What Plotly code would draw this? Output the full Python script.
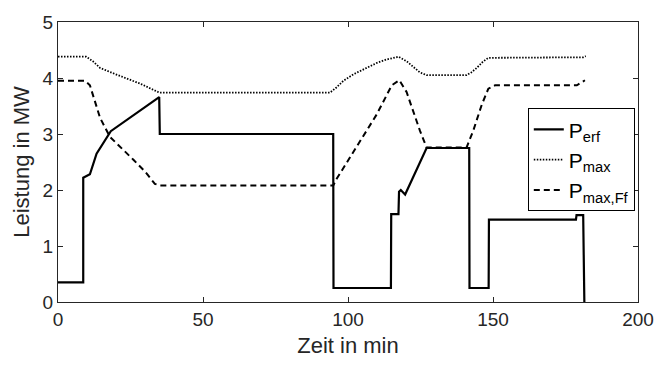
import plotly.graph_objects as go

# P_erf (solid)
t_erf = [0, 8.7, 8.7, 11, 13.3, 18.2, 34.9, 35.1, 94.9, 95.0, 114.8, 114.9, 117.4, 117.6, 118.2, 119.7,
         127.1, 141.8, 141.9, 148.5, 148.6, 178.6, 178.8, 181.1, 181.5]
p_erf = [0.35, 0.35, 2.22, 2.28, 2.65, 3.05, 3.66, 3.0, 3.0, 0.25, 0.25, 1.57, 1.57, 1.97, 2.0, 1.92,
         2.75, 2.75, 0.25, 0.25, 1.47, 1.47, 1.55, 1.55, 0]

# P_max (dotted)
t_max = [0, 9.7, 12, 14.5, 19.7, 24, 28.3, 34.9, 93.8, 96, 98.4, 102, 106.4, 110, 113.3, 117.4,
         120.2, 122.5, 124.8, 127.1, 140.9, 142.5, 144.4, 146.5, 148.4, 181.1, 182]
p_max = [4.38, 4.38, 4.3, 4.18, 4.07, 3.99, 3.9, 3.74, 3.74, 3.83, 3.95, 4.07, 4.18, 4.27, 4.33, 4.38,
         4.3, 4.2, 4.1, 4.05, 4.05, 4.1, 4.18, 4.29, 4.36, 4.37, 4.39]

# P_max,Ff (dashed)
t_ff = [0, 9.3, 11, 12.7, 14.5, 17.9, 22, 26, 30, 33.4, 35.2, 94.9, 96.1, 103, 109.9, 115.1, 117.7,
        120.2, 124.8, 127.1, 140.9, 143.2, 146.1, 148.4, 150.7, 178.9, 181.7]
p_ff = [3.95, 3.95, 3.87, 3.6, 3.29, 2.95, 2.75, 2.54, 2.33, 2.11, 2.08, 2.08, 2.2, 2.78, 3.35, 3.87, 3.96,
        3.75, 3.06, 2.76, 2.76, 3.06, 3.52, 3.81, 3.87, 3.87, 3.96]

x_ticks = [0, 50, 100, 150, 200]
y_ticks = [0, 1, 2, 3, 4, 5]

FONT = "Liberation Sans, Arial, sans-serif"
AX = "#262626"

fig = go.Figure()
fig.add_trace(go.Scatter(x=t_erf, y=p_erf, mode="lines", name="P<sub>erf</sub>",
                         line=dict(color="black", width=2.2)))
fig.add_trace(go.Scatter(x=t_max, y=p_max, mode="lines", name="P<sub>max</sub>",
                         line=dict(color="black", width=1.8, dash="1.5px,1.5px")))
fig.add_trace(go.Scatter(x=t_ff, y=p_ff, mode="lines", name="P<sub>max,Ff</sub>",
                         line=dict(color="black", width=2, dash="6px,4px")))

axis_common = dict(showline=True, linecolor=AX, linewidth=1, mirror="ticks", ticks="inside",
                   ticklen=5, tickcolor=AX, showgrid=False, zeroline=False,
                   tickfont=dict(family=FONT, size=19, color=AX))

fig.update_xaxes(range=[0, 200], tickvals=x_ticks, ticktext=[str(v) for v in x_ticks],
                 title=dict(text="Zeit in min", font=dict(family=FONT, size=22, color=AX), standoff=8),
                 **axis_common)
fig.update_yaxes(range=[0, 5], tickvals=y_ticks, ticktext=[str(v) for v in y_ticks],
                 title=dict(text="Leistung in MW", font=dict(family=FONT, size=22, color=AX), standoff=6),
                 **axis_common)

fig.update_layout(
    width=667, height=365,
    margin=dict(l=58, r=29, t=15, b=61),
    paper_bgcolor="white", plot_bgcolor="white",
    showlegend=True,
    legend=dict(x=0.81, y=0.692, xanchor="left", yanchor="top",
                bgcolor="white", bordercolor="black", borderwidth=1,
                font=dict(family=FONT, size=21, color="black"),
                itemwidth=30, tracegroupgap=0),
)

fig.write_html("out.html")
